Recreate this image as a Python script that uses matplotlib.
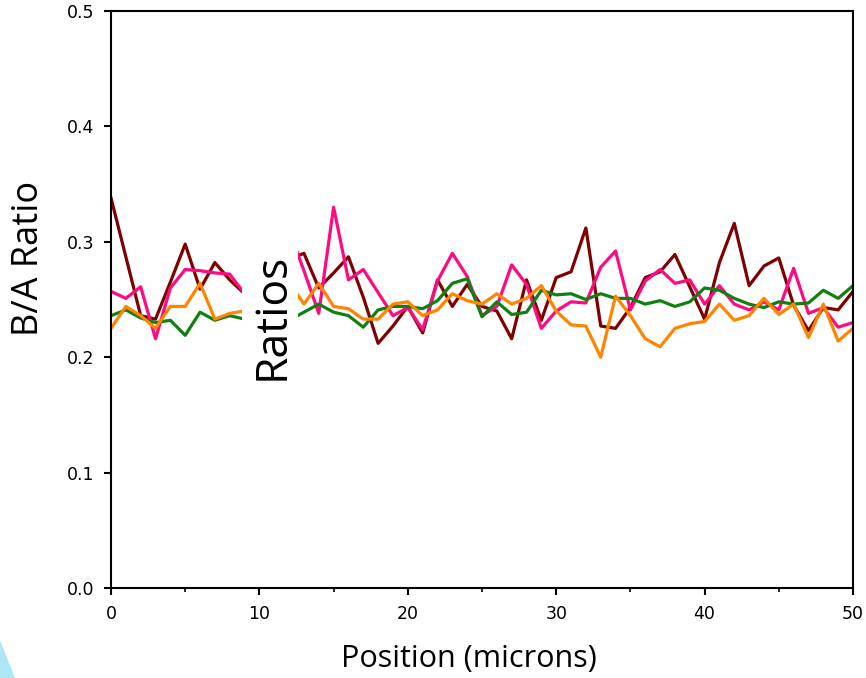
import matplotlib
matplotlib.use("Agg")
from matplotlib import pyplot as plt
from matplotlib.patches import Rectangle, Polygon

# position along the line scan (microns)
position = list(range(0, 51))

# B/A ratio traces, one value per micron
ratio_maroon = [0.338, 0.287, 0.236, 0.233, 0.265, 0.298, 0.259, 0.282, 0.267, 0.255,
                0.260, 0.270, 0.285, 0.290, 0.260, 0.273, 0.287, 0.252, 0.212, 0.227,
                0.244, 0.221, 0.267, 0.244, 0.263, 0.244, 0.240, 0.216, 0.267, 0.232,
                0.269, 0.274, 0.312, 0.227, 0.225, 0.243, 0.269, 0.274, 0.289, 0.261,
                0.233, 0.282, 0.316, 0.262, 0.279, 0.286, 0.245, 0.223, 0.243, 0.241,
                0.257]
ratio_pink = [0.257, 0.251, 0.261, 0.216, 0.260, 0.276, 0.275, 0.273, 0.272, 0.255,
              0.250, 0.270, 0.310, 0.275, 0.238, 0.330, 0.267, 0.276, 0.256, 0.236,
              0.243, 0.224, 0.266, 0.290, 0.270, 0.236, 0.244, 0.280, 0.263, 0.225,
              0.240, 0.248, 0.247, 0.278, 0.292, 0.241, 0.266, 0.276, 0.264, 0.267,
              0.246, 0.262, 0.246, 0.241, 0.248, 0.241, 0.277, 0.238, 0.243, 0.226,
              0.230]
ratio_green = [0.236, 0.241, 0.234, 0.230, 0.232, 0.219, 0.239, 0.232, 0.236, 0.233,
               0.236, 0.234, 0.232, 0.239, 0.246, 0.239, 0.236, 0.226, 0.241, 0.244,
               0.244, 0.242, 0.249, 0.264, 0.268, 0.235, 0.248, 0.237, 0.239, 0.258,
               0.254, 0.255, 0.250, 0.255, 0.251, 0.251, 0.246, 0.249, 0.244, 0.248,
               0.260, 0.258, 0.251, 0.246, 0.243, 0.248, 0.246, 0.247, 0.258, 0.251,
               0.262]
ratio_orange = [0.225, 0.244, 0.236, 0.225, 0.244, 0.244, 0.264, 0.233, 0.238, 0.240,
                0.250, 0.255, 0.265, 0.246, 0.264, 0.244, 0.242, 0.233, 0.233, 0.246,
                0.248, 0.236, 0.241, 0.255, 0.249, 0.246, 0.255, 0.246, 0.251, 0.262,
                0.240, 0.228, 0.227, 0.200, 0.253, 0.236, 0.216, 0.209, 0.225, 0.229,
                0.231, 0.246, 0.232, 0.236, 0.251, 0.237, 0.246, 0.217, 0.246, 0.214,
                0.225]

y_ticks = [0.0, 0.1, 0.2, 0.3, 0.4, 0.5]
x_ticks = [0, 10, 20, 30, 40, 50]

W, H = 866, 678
fig = plt.figure(figsize=(W / 100, H / 100), dpi=100)
ax = fig.add_axes([111 / W, 1 - 588 / H, (853 - 111) / W, (588 - 11) / H])

lw = 2.3
ax.plot(position, ratio_maroon, color='#7f0000', lw=lw)
ax.plot(position, ratio_pink, color='#ff0a80', lw=lw)
ax.plot(position, ratio_green, color='#108010', lw=lw)
ax.plot(position, ratio_orange, color='#ff8400', lw=lw)

ax.set_xlim(0, 50)
ax.set_ylim(0, 0.5)
ax.set_xticks(x_ticks)
ax.set_xticks([5, 15, 25, 35, 45], minor=True)
ax.set_yticks(y_ticks)
ax.set_yticklabels([f"{v:.1f}" for v in y_ticks])
for s in ax.spines.values():
    s.set_linewidth(1.5)
ax.tick_params(which='major', direction='out', length=5, width=1.5,
               labelsize=12.5, pad=7)
ax.tick_params(which='minor', direction='out', length=3, width=1.2)

# axis titles placed where the original has them
fig.text(469 / W, 1 - 659 / H, "Position (microns)", family='Open Sans',
         fontsize=22, ha='center', va='center')
fig.text(29 / W, 1 - 258 / H, "B/A Ratio", family='Open Sans',
         fontsize=26, rotation=90, ha='center', va='center')

# white box with stray label over the plot
fig.patches.append(Rectangle((242 / W, 1 - 388 / H), 56 / W, 195 / H,
                             transform=fig.transFigure, facecolor='white',
                             edgecolor='none', zorder=5))
fig.text(272 / W, 1 - 316 / H, "Ratios", rotation=90, family='Open Sans',
         fontsize=32, ha='center', va='center', zorder=6)

# light blue corner shape
fig.patches.append(Polygon([(0, 1 - 640 / H), (0, 0), (15 / W, 0)],
                           closed=True, transform=fig.transFigure,
                           facecolor='#aee6f8', edgecolor='none'))

fig.savefig("out.png", dpi=100)
